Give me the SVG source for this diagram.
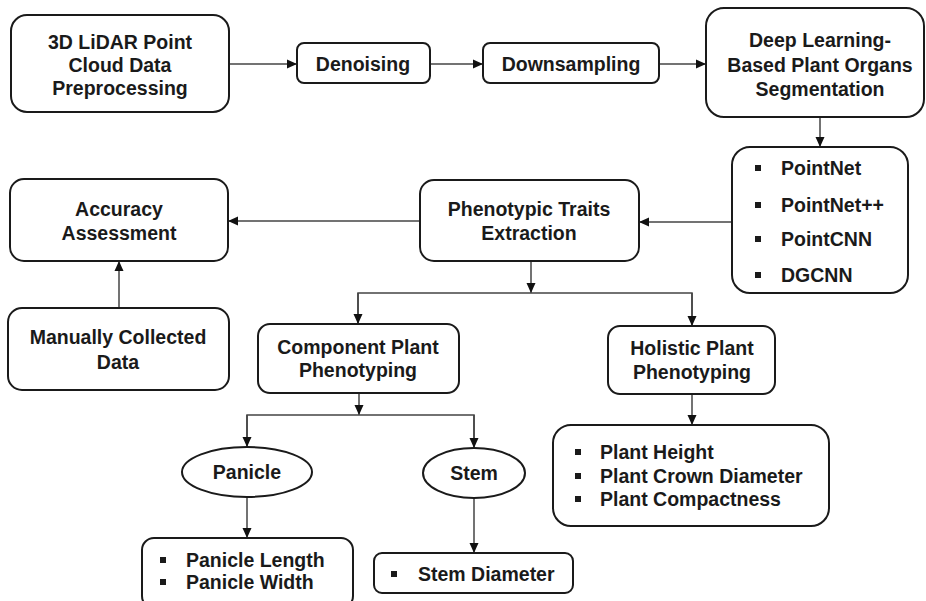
<svg xmlns="http://www.w3.org/2000/svg" width="926" height="601" viewBox="0 0 926 601">
<style>
.box{fill:#fff;stroke:#1a1a1a;stroke-width:2}
.t{font-family:"Liberation Sans",Arial,sans-serif;font-weight:bold;font-size:19.5px;fill:#1a1a1a;text-anchor:middle}
.l{font-family:"Liberation Sans",Arial,sans-serif;font-weight:bold;font-size:19.5px;fill:#1a1a1a}
.c{fill:none;stroke:#444;stroke-width:1.5}
.b{fill:#1a1a1a}
</style>
<defs>
<marker id="ah" viewBox="0 0 10 10" refX="10" refY="5" markerWidth="10" markerHeight="10" markerUnits="userSpaceOnUse" orient="auto">
<path d="M0,0.5 L10,5 L0,9.5 Z" fill="#111"/>
</marker>
</defs>
<rect width="926" height="601" fill="#fff"/>
<g id="connectors">
<line class="c" x1="229" y1="64" x2="297" y2="64" marker-end="url(#ah)"/>
<line class="c" x1="430" y1="64" x2="483" y2="64" marker-end="url(#ah)"/>
<line class="c" x1="659" y1="64" x2="706" y2="64" marker-end="url(#ah)"/>
<line class="c" x1="820" y1="117" x2="820" y2="147" marker-end="url(#ah)"/>
<line class="c" x1="732" y1="222" x2="639" y2="222" marker-end="url(#ah)"/>
<line class="c" x1="420" y1="221" x2="228" y2="221" marker-end="url(#ah)"/>
<line class="c" x1="119" y1="308" x2="119" y2="261" marker-end="url(#ah)"/>
<line class="c" x1="531" y1="261" x2="531" y2="293" marker-end="url(#ah)"/>
<polyline class="c" points="358,324 358,293 692,293 692,326"/>
<line class="c" x1="358" y1="293" x2="358" y2="324" marker-end="url(#ah)"/>
<line class="c" x1="692" y1="293" x2="692" y2="326" marker-end="url(#ah)"/>
<line class="c" x1="692" y1="394" x2="692" y2="425" marker-end="url(#ah)"/>
<line class="c" x1="359" y1="393" x2="359" y2="415" marker-end="url(#ah)"/>
<polyline class="c" points="247,447 247,415 474,415 474,448"/>
<line class="c" x1="247" y1="415" x2="247" y2="447" marker-end="url(#ah)"/>
<line class="c" x1="474" y1="415" x2="474" y2="448" marker-end="url(#ah)"/>
<line class="c" x1="247" y1="497" x2="247" y2="538" marker-end="url(#ah)"/>
<line class="c" x1="474" y1="498" x2="474" y2="553" marker-end="url(#ah)"/>
</g>
<g id="n-lidar">
<rect class="box" x="11" y="15" width="218" height="97" rx="16"/>
<text class="t" x="120" y="49">3D LiDAR Point</text>
<text class="t" x="120" y="72">Cloud Data</text>
<text class="t" x="120" y="95">Preprocessing</text>
</g>
<g id="n-denoising">
<rect class="box" x="297" y="43" width="133" height="40" rx="7"/>
<text class="t" x="363" y="71">Denoising</text>
</g>
<g id="n-downsampling">
<rect class="box" x="483" y="43" width="176" height="40" rx="7"/>
<text class="t" x="571" y="71">Downsampling</text>
</g>
<g id="n-deeplearning">
<rect class="box" x="706" y="8" width="218" height="109" rx="18"/>
<text class="t" x="820" y="47">Deep Learning-</text>
<text class="t" x="820" y="72">Based Plant Organs</text>
<text class="t" x="820" y="96">Segmentation</text>
</g>
<g id="n-models">
<rect class="box" x="732" y="147" width="176" height="146" rx="18"/>
<rect class="b" x="755" y="165" width="6" height="6"/>
<rect class="b" x="755" y="202" width="6" height="6"/>
<rect class="b" x="755" y="236" width="6" height="6"/>
<rect class="b" x="755" y="272" width="6" height="6"/>
<text class="l" x="781" y="175">PointNet</text>
<text class="l" x="781" y="212">PointNet++</text>
<text class="l" x="781" y="246">PointCNN</text>
<text class="l" x="781" y="282">DGCNN</text>
</g>
<g id="n-traits">
<rect class="box" x="420" y="180" width="219" height="81" rx="14"/>
<text class="t" x="529" y="216">Phenotypic Traits</text>
<text class="t" x="529" y="240">Extraction</text>
</g>
<g id="n-accuracy">
<rect class="box" x="10" y="179" width="218" height="82" rx="14"/>
<text class="t" x="119" y="216">Accuracy</text>
<text class="t" x="119" y="240">Assessment</text>
</g>
<g id="n-manual">
<rect class="box" x="8" y="308" width="221" height="82" rx="14"/>
<text class="t" x="118" y="344">Manually Collected</text>
<text class="t" x="118" y="369">Data</text>
</g>
<g id="n-component">
<rect class="box" x="258" y="324" width="201" height="69" rx="12"/>
<text class="t" x="358" y="354">Component Plant</text>
<text class="t" x="358" y="377">Phenotyping</text>
</g>
<g id="n-holistic">
<rect class="box" x="608" y="326" width="167" height="68" rx="12"/>
<text class="t" x="692" y="355">Holistic Plant</text>
<text class="t" x="692" y="379">Phenotyping</text>
</g>
<g id="n-holistic-traits">
<rect class="box" x="553" y="425" width="276" height="101" rx="18"/>
<rect class="b" x="575" y="449" width="6" height="6"/>
<rect class="b" x="575" y="473" width="6" height="6"/>
<rect class="b" x="575" y="496" width="6" height="6"/>
<text class="l" x="600" y="459">Plant Height</text>
<text class="l" x="600" y="483">Plant Crown Diameter</text>
<text class="l" x="600" y="506">Plant Compactness</text>
</g>
<g id="n-panicle">
<ellipse class="box" cx="247" cy="472" rx="65" ry="25"/>
<text class="t" x="247" y="479">Panicle</text>
</g>
<g id="n-stem">
<ellipse class="box" cx="474" cy="473" rx="51" ry="25"/>
<text class="t" x="474" y="480">Stem</text>
</g>
<g id="n-panicle-traits">
<rect class="box" x="142" y="538" width="211" height="70" rx="12"/>
<rect class="b" x="160" y="557" width="6" height="6"/>
<rect class="b" x="160" y="579" width="6" height="6"/>
<text class="l" x="186" y="567">Panicle Length</text>
<text class="l" x="186" y="589">Panicle Width</text>
</g>
<g id="n-stem-traits">
<rect class="box" x="374" y="553" width="199" height="40" rx="8"/>
<rect class="b" x="391" y="571" width="6" height="6"/>
<text class="l" x="418" y="581">Stem Diameter</text>
</g>
</svg>
